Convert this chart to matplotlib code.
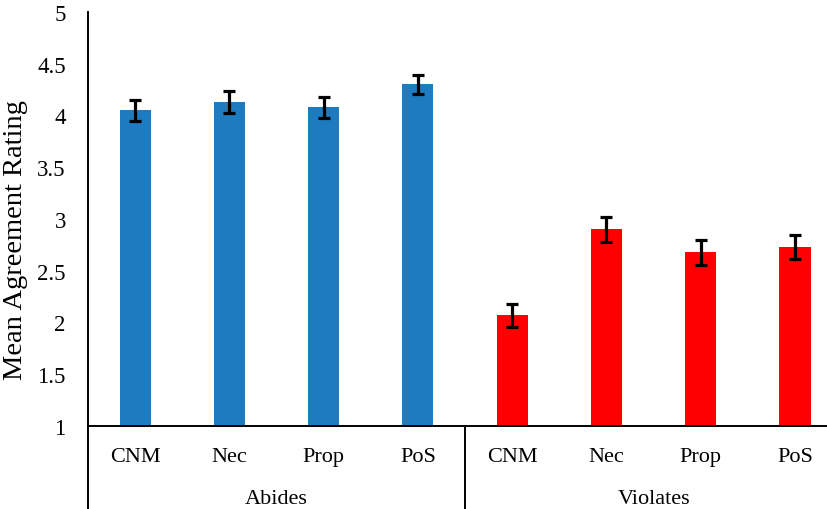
import matplotlib.pyplot as plt
import numpy as np

plt.rcParams['font.family'] = ['Liberation Serif', 'DejaVu Serif']

categories = ["CNM", "Nec", "Prop", "PoS"]
groups = ["Abides", "Violates"]
abides_means = [4.05, 4.13, 4.08, 4.30]
abides_err = [0.10, 0.11, 0.10, 0.09]
violates_means = [2.07, 2.90, 2.68, 2.73]
violates_err = [0.11, 0.12, 0.12, 0.12]

fig = plt.figure(figsize=(8.28, 5.10), dpi=100)
ax = fig.add_axes([88/828, 83/510, 1 - 88/828, (427-13)/510])

x_ab = np.arange(len(categories))
x_vi = x_ab + len(categories)
ekw = dict(ecolor="black", elinewidth=2.3, capsize=4.5, capthick=2.3)
ax.bar(x_ab, np.array(abides_means) - 1, bottom=1, width=0.33, color="#1f7bbf",
       yerr=abides_err, error_kw=ekw)
ax.bar(x_vi, np.array(violates_means) - 1, bottom=1, width=0.33, color="#ff0000",
       yerr=violates_err, error_kw=ekw)

ax.set_ylim(1, 5)
ax.set_xlim(-0.5, 7.35)
ax.set_yticks(np.arange(1, 5.01, 0.5))
ax.set_yticklabels(["1", "1.5", "2", "2.5", "3", "3.5", "4", "4.5", "5"])
ax.tick_params(axis="y", length=0, labelsize=16.5, pad=16)
ax.set_xticks(np.concatenate([x_ab, x_vi]))
ax.set_xticklabels(categories + categories)
ax.tick_params(axis="x", length=0, labelsize=16, pad=15)
fig.text(16/828, 1 - 240/510, "Mean Agreement Rating", rotation=90,
         ha="center", va="center", fontsize=20.5)

for s in ["top", "right"]:
    ax.spines[s].set_visible(False)
ax.spines["left"].set_linewidth(1.4)
ax.spines["bottom"].set_linewidth(1.4)

trans = ax.get_xaxis_transform()
for xs in [-0.5, 3.5]:
    ax.plot([xs, xs], [0, -0.21], color="black", lw=1.4, transform=trans, clip_on=False)
for i, g in enumerate(groups):
    ax.text(1.5 + 4 * i, -0.176, g, transform=trans, ha="center", va="center", fontsize=16)

plt.savefig("out.png", dpi=100)
